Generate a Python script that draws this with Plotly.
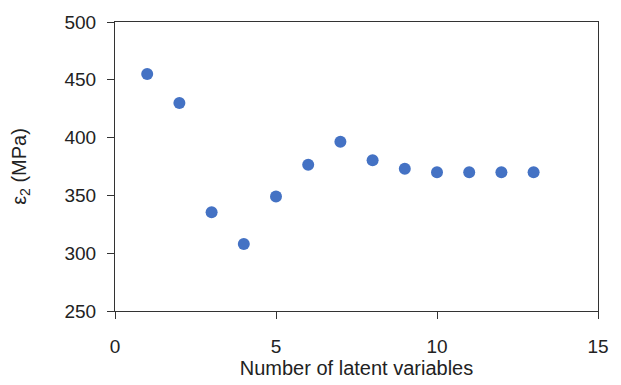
import plotly.graph_objects as go

n_latent = [1, 2, 3, 4, 5, 6, 7, 8, 9, 10, 11, 12, 13]
eps2 = [455, 430, 335.5, 308, 349, 376.5, 396.5, 380.5, 373, 370, 370, 370, 370]

fig = go.Figure()
fig.add_trace(go.Scatter(
    x=n_latent, y=eps2, mode="markers",
    marker=dict(size=12, color="#4472C4", line=dict(width=0)),
    showlegend=False,
))

FONT = "Liberation Sans, Arial"
axis_common = dict(
    showgrid=False, zeroline=False, showline=True, linecolor="#333333", linewidth=1,
    mirror=True, ticks="outside", ticklen=7, tickcolor="#333333", tickwidth=1,
    tickfont=dict(family=FONT, size=19, color="#222222"),
)

fig.update_layout(
    width=621, height=385,
    margin=dict(l=115, r=20, t=19, b=70),
    paper_bgcolor="white", plot_bgcolor="white",
    xaxis=dict(range=[0, 15], tickvals=[0, 5, 10, 15], ticklabelstandoff=11,
               title=dict(text="Number of latent variables", standoff=2,
                          font=dict(family=FONT, size=20, color="#222222")),
               **axis_common),
    yaxis=dict(range=[250, 500], tickvals=[250, 300, 350, 400, 450, 500], ticklabelstandoff=7,
               title=dict(text="ε<sub>2</sub> (MPa)", standoff=32,
                          font=dict(family=FONT, size=20, color="#222222")),
               **axis_common),
)

fig.write_html("out.html")
